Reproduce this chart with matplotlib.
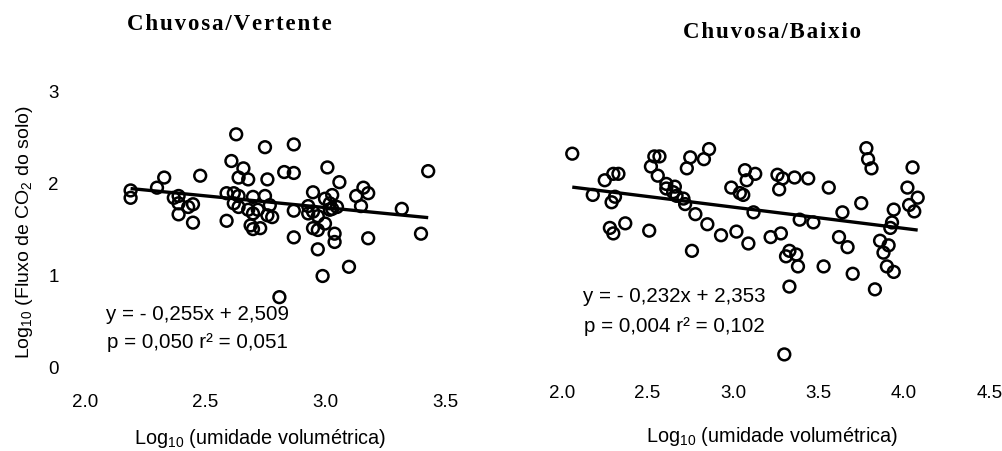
import matplotlib
matplotlib.use("Agg")
import matplotlib.pyplot as plt
import numpy as np

plt.rcParams["font.family"] = ["Liberation Sans", "DejaVu Sans"]
plt.rcParams["mathtext.fontset"] = "custom"
plt.rcParams["mathtext.rm"] = "Liberation Sans"
plt.rcParams["mathtext.it"] = "Liberation Sans:italic"
plt.rcParams["mathtext.bf"] = "Liberation Sans:bold"

# ---- Chuvosa / Vertente ----
vert_x = [2.19, 2.19, 2.30, 2.33, 2.37, 2.39, 2.39, 2.39, 2.43, 2.45, 2.45, 2.48,
          2.59, 2.59, 2.61, 2.62, 2.63, 2.62, 2.64, 2.66, 2.64, 2.68, 2.70, 2.68,
          2.70, 2.69, 2.70, 2.73, 2.75, 2.76, 2.75, 2.77, 2.76, 2.78, 2.83, 2.87,
          2.87, 2.87, 2.87, 2.81, 2.95, 2.93, 2.95, 2.97, 2.95, 2.97, 2.97, 2.99,
          3.01, 3.00, 3.06, 3.03, 3.02, 3.03, 3.05, 3.00, 3.04, 3.04, 3.10, 3.13,
          3.16, 3.18, 3.15, 3.18, 3.32, 3.40, 3.43, 2.64, 2.72, 3.02, 2.93]
vert_y = [1.93, 1.85, 1.96, 2.07, 1.85, 1.87, 1.79, 1.67, 1.75, 1.78, 1.58, 2.09,
          1.60, 1.90, 2.25, 1.90, 2.54, 1.79, 1.75, 2.17, 2.07, 2.05, 1.86, 1.72,
          1.68, 1.55, 1.51, 1.52, 2.40, 2.05, 1.87, 1.77, 1.66, 1.64, 2.13, 2.12,
          2.43, 1.71, 1.42, 0.77, 1.91, 1.76, 1.70, 1.65, 1.52, 1.50, 1.29, 1.00,
          2.18, 1.84, 2.02, 1.88, 1.79, 1.73, 1.75, 1.57, 1.46, 1.37, 1.10, 1.87,
          1.96, 1.90, 1.76, 1.41, 1.73, 1.46, 2.14, 1.87, 1.72, 1.72, 1.68]
vert_slope, vert_intercept = -0.255, 2.509
vert_eq = "y = - 0,255x + 2,509"
vert_stats = "p = 0,050 r² = 0,051"

# ---- Chuvosa / Baixio ----
baix_x = [2.06, 2.18, 2.25, 2.30, 2.33, 2.31, 2.29, 2.28, 2.30, 2.37, 2.51, 2.52,
          2.54, 2.57, 2.56, 2.61, 2.61, 2.66, 2.65, 2.67, 2.71, 2.72, 2.73, 2.75,
          2.83, 2.86, 2.78, 2.85, 2.76, 2.93, 3.02, 2.99, 3.04, 3.06, 3.07, 3.08,
          3.13, 3.12, 3.09, 3.22, 3.28, 3.26, 3.29, 3.27, 3.36, 3.44, 3.33, 3.31,
          3.37, 3.38, 3.33, 3.30, 3.39, 3.47, 3.53, 3.56, 3.64, 3.62, 3.67, 3.70,
          3.75, 3.78, 3.79, 3.81, 3.83, 3.86, 3.88, 3.91, 3.90, 3.94, 3.94, 3.93,
          3.92, 4.05, 4.02, 4.08, 4.03, 4.06]
baix_y = [2.24, 1.79, 1.95, 2.02, 2.02, 1.77, 1.71, 1.43, 1.37, 1.48, 1.40, 2.10,
          2.21, 2.21, 2.00, 1.91, 1.86, 1.88, 1.82, 1.78, 1.75, 1.69, 2.08, 2.20,
          2.18, 2.29, 1.58, 1.47, 1.18, 1.35, 1.39, 1.87, 1.81, 1.79, 2.06, 1.95,
          2.02, 1.60, 1.26, 1.33, 1.37, 2.01, 1.97, 1.85, 1.98, 1.97, 1.18, 1.12,
          1.14, 1.01, 0.79, 0.05, 1.52, 1.49, 1.01, 1.87, 1.60, 1.33, 1.22, 0.93,
          1.70, 2.30, 2.18, 2.08, 0.76, 1.29, 1.16, 1.24, 1.01, 0.95, 1.63, 1.49,
          1.43, 2.09, 1.87, 1.76, 1.68, 1.61]
baix_slope, baix_intercept = -0.232, 2.353
baix_eq = "y = - 0,232x + 2,353"
baix_stats = "p = 0,004 r² = 0,102"

left_xticks = [2.0, 2.5, 3.0, 3.5]
right_xticks = [2.0, 2.5, 3.0, 3.5, 4.0, 4.5]
yticks = [0, 1, 2, 3]

W, H = 1002, 451
fig = plt.figure(figsize=(W / 100, H / 100), dpi=100)


def px_axes(x0, x1, y_top, y_bottom):
    return fig.add_axes([x0 / W, 1 - y_bottom / H, (x1 - x0) / W, (y_bottom - y_top) / H])


def draw_panel(ax, xs, ys, slope, intercept, xlim, xticks, show_y):
    ax.scatter(xs, ys, s=72, facecolors="none", edgecolors="black",
               linewidths=1.8, clip_on=False, zorder=3)
    xl = np.array([min(xs), max(xs)])
    ax.plot(xl, slope * xl + intercept, color="black", lw=2.4, solid_capstyle="butt",
            zorder=4)
    ax.set_xlim(*xlim)
    ax.set_ylim(0, 3)
    ax.set_xticks(xticks)
    ax.set_xticklabels([f"{t:.1f}" for t in xticks])
    ax.set_yticks(yticks)
    if show_y:
        ax.set_yticklabels([str(t) for t in yticks])
    else:
        ax.set_yticklabels([])
    for s in ax.spines.values():
        s.set_visible(False)
    ax.tick_params(length=0, pad=19, labelsize=13.5)
    ax.patch.set_visible(False)


ax1 = px_axes(85, 445, 92, 368)
draw_panel(ax1, vert_x, vert_y, vert_slope, vert_intercept, (2.0, 3.5),
           left_xticks, True)

ax2 = px_axes(562, 989.5, 84, 359)
draw_panel(ax2, baix_x, baix_y, baix_slope, baix_intercept, (2.0, 4.5),
           right_xticks, False)


def ftext(x, y, s, **kw):
    fig.text(x / W, 1 - y / H, s, ha="center", va="center", **kw)


def spaced(s):
    # loose tracking for the panel headings
    return "\u200a".join(s)


title_kw = dict(fontsize=16.5, fontweight="bold",
                family=["Liberation Serif", "DejaVu Serif"])
ftext(229, 25, spaced("Chuvosa/Vertente"), **title_kw)
ftext(772, 32, spaced("Chuvosa/Baixio"), **title_kw)

ftext(260, 438, r"Log$_{10}$ (umidade volumétrica)", fontsize=14.3)
ftext(772, 436, r"Log$_{10}$ (umidade volumétrica)", fontsize=14.3)
ftext(25, 232, r"Log$_{10}$ (Fluxo de CO$_2$ do solo)", fontsize=14, rotation=90)

ftext(197, 315, vert_eq, fontsize=14.8)
ftext(197, 343, vert_stats, fontsize=14.8)
ftext(674, 297, baix_eq, fontsize=14.8)
ftext(674, 326, baix_stats, fontsize=14.8)

fig.savefig("out.png", dpi=100, facecolor="white")
